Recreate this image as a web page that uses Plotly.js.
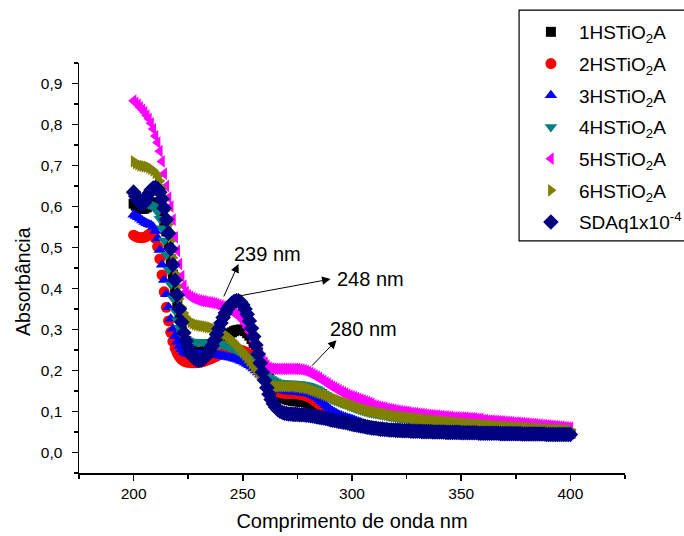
<!DOCTYPE html>
<html>
<head>
<meta charset="utf-8">
<script src="https://cdn.plot.ly/plotly-3.0.1.min.js"></script>
<style>html,body{margin:0;padding:0;background:#fff;}#chart{width:684px;height:536px;}</style>
</head>
<body>
<div id="chart"></div>
<script>
// Wavelength grid: 200..400 nm, 1 nm step
var wavelength = [];
for (var w = 200; w <= 400; w++) wavelength.push(w);

var seriesNames = ["1HSTiO<sub>2</sub>A","2HSTiO<sub>2</sub>A","3HSTiO<sub>2</sub>A","4HSTiO<sub>2</sub>A","5HSTiO<sub>2</sub>A","6HSTiO<sub>2</sub>A","SDAq1x10<sup>-4</sup>"];

var abs1HS = [
0.607,0.602,0.598,0.595,0.594,0.595,0.598,0.602,0.606,0.609,
0.610,0.607,0.599,0.585,0.565,0.539,0.507,0.471,0.434,0.398,
0.364,0.333,0.307,0.287,0.272,0.261,0.253,0.248,0.245,0.244,
0.244,0.245,0.247,0.250,0.253,0.257,0.261,0.265,0.269,0.273,
0.277,0.281,0.284,0.287,0.290,0.293,0.296,0.298,0.299,0.300,
0.299,0.296,0.291,0.285,0.277,0.267,0.256,0.244,0.231,0.218,
0.205,0.192,0.180,0.169,0.159,0.151,0.144,0.139,0.135,0.132,
0.130,0.128,0.127,0.126,0.125,0.125,0.124,0.124,0.123,0.122,
0.121,0.119,0.117,0.114,0.111,0.108,0.104,0.100,0.097,0.094,
0.091,0.088,0.086,0.084,0.082,0.080,0.078,0.077,0.076,0.075,
0.073,0.071,0.070,0.069,0.068,0.067,0.066,0.065,0.064,0.063,
0.061,0.061,0.060,0.059,0.059,0.058,0.058,0.057,0.057,0.057,
0.056,0.056,0.056,0.055,0.055,0.055,0.055,0.054,0.054,0.054,
0.054,0.054,0.053,0.053,0.053,0.053,0.053,0.052,0.052,0.052,
0.052,0.052,0.052,0.051,0.051,0.051,0.051,0.051,0.051,0.051,
0.050,0.050,0.050,0.050,0.050,0.050,0.050,0.050,0.049,0.049,
0.049,0.049,0.049,0.049,0.049,0.049,0.049,0.049,0.048,0.048,
0.048,0.048,0.048,0.048,0.048,0.048,0.048,0.048,0.047,0.047,
0.047,0.047,0.047,0.047,0.047,0.047,0.047,0.047,0.047,0.046,
0.046,0.046,0.046,0.046,0.046,0.046,0.046,0.046,0.046,0.046,
0.046];

var abs2HS = [
0.530,0.527,0.525,0.524,0.524,0.525,0.528,0.532,0.535,0.533,
0.522,0.502,0.472,0.433,0.392,0.354,0.321,0.293,0.271,0.254,
0.242,0.233,0.227,0.223,0.221,0.220,0.219,0.219,0.219,0.219,
0.220,0.221,0.222,0.224,0.226,0.228,0.230,0.233,0.235,0.238,
0.240,0.242,0.244,0.246,0.247,0.248,0.249,0.250,0.250,0.249,
0.248,0.246,0.243,0.239,0.234,0.228,0.222,0.215,0.207,0.199,
0.191,0.182,0.173,0.165,0.158,0.152,0.148,0.146,0.145,0.144,
0.144,0.144,0.144,0.144,0.144,0.143,0.142,0.141,0.140,0.138,
0.136,0.133,0.130,0.126,0.122,0.118,0.114,0.110,0.105,0.101,
0.097,0.093,0.089,0.086,0.083,0.080,0.078,0.076,0.074,0.073,
0.072,0.071,0.070,0.069,0.068,0.067,0.066,0.065,0.064,0.063,
0.061,0.061,0.060,0.059,0.059,0.058,0.058,0.057,0.057,0.057,
0.056,0.056,0.056,0.055,0.055,0.055,0.055,0.054,0.054,0.054,
0.054,0.054,0.053,0.053,0.053,0.053,0.053,0.052,0.052,0.052,
0.052,0.052,0.052,0.051,0.051,0.051,0.051,0.051,0.051,0.051,
0.050,0.050,0.050,0.050,0.050,0.050,0.050,0.050,0.049,0.049,
0.049,0.049,0.049,0.049,0.049,0.049,0.049,0.049,0.048,0.048,
0.048,0.048,0.048,0.048,0.048,0.048,0.048,0.048,0.047,0.047,
0.047,0.047,0.047,0.047,0.047,0.047,0.047,0.047,0.047,0.046,
0.046,0.046,0.046,0.046,0.046,0.046,0.046,0.046,0.046,0.046,
0.046];

var abs3HS = [
0.580,0.577,0.574,0.570,0.566,0.562,0.559,0.557,0.555,0.550,
0.540,0.522,0.494,0.458,0.421,0.386,0.354,0.326,0.302,0.284,
0.270,0.260,0.252,0.246,0.242,0.240,0.239,0.239,0.239,0.239,
0.239,0.239,0.239,0.239,0.239,0.239,0.238,0.238,0.237,0.237,
0.236,0.235,0.234,0.233,0.232,0.231,0.229,0.228,0.226,0.224,
0.222,0.219,0.216,0.213,0.209,0.205,0.200,0.195,0.190,0.185,
0.180,0.175,0.170,0.166,0.162,0.158,0.155,0.153,0.152,0.151,
0.150,0.149,0.149,0.148,0.148,0.147,0.147,0.146,0.146,0.145,
0.144,0.142,0.140,0.137,0.134,0.130,0.125,0.120,0.115,0.110,
0.105,0.101,0.098,0.095,0.092,0.090,0.088,0.086,0.084,0.083,
0.081,0.079,0.077,0.075,0.073,0.071,0.069,0.067,0.066,0.064,
0.062,0.062,0.061,0.060,0.060,0.059,0.059,0.058,0.058,0.058,
0.057,0.057,0.057,0.056,0.056,0.056,0.056,0.055,0.055,0.055,
0.055,0.055,0.054,0.054,0.054,0.054,0.054,0.053,0.053,0.053,
0.053,0.053,0.053,0.052,0.052,0.052,0.052,0.052,0.052,0.052,
0.051,0.051,0.051,0.051,0.051,0.051,0.051,0.051,0.050,0.050,
0.050,0.050,0.050,0.050,0.050,0.050,0.050,0.050,0.049,0.049,
0.049,0.049,0.049,0.049,0.049,0.049,0.049,0.049,0.048,0.048,
0.048,0.048,0.048,0.048,0.048,0.048,0.048,0.048,0.048,0.047,
0.047,0.047,0.047,0.047,0.047,0.047,0.047,0.047,0.047,0.047,
0.047];

var abs4HS = [
0.628,0.624,0.620,0.616,0.612,0.609,0.607,0.605,0.603,0.600,
0.595,0.586,0.570,0.547,0.517,0.482,0.446,0.410,0.376,0.346,
0.322,0.304,0.291,0.282,0.276,0.273,0.271,0.270,0.270,0.270,
0.270,0.270,0.270,0.269,0.269,0.268,0.268,0.267,0.266,0.265,
0.264,0.263,0.261,0.259,0.257,0.255,0.253,0.250,0.247,0.244,
0.240,0.236,0.232,0.227,0.222,0.217,0.212,0.207,0.202,0.197,
0.192,0.187,0.183,0.179,0.176,0.173,0.171,0.170,0.169,0.168,
0.168,0.168,0.168,0.168,0.167,0.167,0.167,0.166,0.165,0.164,
0.163,0.161,0.159,0.157,0.155,0.152,0.148,0.144,0.140,0.136,
0.132,0.129,0.127,0.125,0.123,0.121,0.119,0.117,0.115,0.113,
0.111,0.109,0.107,0.105,0.103,0.102,0.100,0.099,0.097,0.096,
0.095,0.094,0.093,0.092,0.091,0.090,0.089,0.088,0.087,0.086,
0.085,0.084,0.084,0.083,0.082,0.081,0.081,0.080,0.079,0.079,
0.078,0.077,0.077,0.076,0.075,0.075,0.074,0.074,0.073,0.073,
0.072,0.072,0.071,0.071,0.070,0.070,0.069,0.069,0.068,0.068,
0.067,0.067,0.066,0.066,0.065,0.065,0.064,0.064,0.064,0.063,
0.063,0.062,0.062,0.062,0.061,0.061,0.060,0.060,0.060,0.059,
0.059,0.059,0.058,0.058,0.058,0.057,0.057,0.057,0.056,0.056,
0.056,0.055,0.055,0.055,0.054,0.054,0.054,0.053,0.053,0.053,
0.052,0.052,0.052,0.052,0.051,0.051,0.051,0.051,0.050,0.050,
0.050];

var abs5HS = [
0.858,0.853,0.848,0.842,0.836,0.830,0.822,0.814,0.803,0.789,
0.772,0.756,0.735,0.710,0.680,0.650,0.622,0.600,0.568,0.525,
0.492,0.460,0.430,0.407,0.392,0.384,0.380,0.377,0.375,0.373,
0.371,0.370,0.369,0.368,0.367,0.366,0.365,0.364,0.362,0.360,
0.358,0.356,0.354,0.351,0.348,0.345,0.341,0.337,0.333,0.328,
0.322,0.314,0.305,0.295,0.284,0.272,0.260,0.249,0.238,0.228,
0.219,0.212,0.207,0.205,0.204,0.204,0.204,0.204,0.204,0.204,
0.204,0.204,0.204,0.204,0.204,0.204,0.203,0.202,0.201,0.199,
0.197,0.194,0.191,0.188,0.185,0.182,0.178,0.175,0.171,0.168,
0.164,0.161,0.158,0.155,0.152,0.149,0.146,0.144,0.141,0.139,
0.137,0.135,0.133,0.131,0.129,0.127,0.125,0.123,0.121,0.119,
0.115,0.114,0.112,0.111,0.110,0.109,0.107,0.106,0.105,0.104,
0.103,0.102,0.101,0.100,0.100,0.099,0.098,0.097,0.096,0.096,
0.095,0.094,0.094,0.093,0.092,0.092,0.091,0.091,0.090,0.090,
0.089,0.089,0.088,0.088,0.087,0.087,0.086,0.086,0.086,0.085,
0.085,0.085,0.085,0.084,0.084,0.083,0.083,0.082,0.082,0.082,
0.079,0.079,0.078,0.078,0.078,0.077,0.077,0.076,0.076,0.076,
0.075,0.075,0.074,0.074,0.073,0.073,0.073,0.072,0.072,0.071,
0.071,0.070,0.070,0.069,0.069,0.068,0.068,0.067,0.067,0.066,
0.066,0.065,0.065,0.064,0.064,0.063,0.063,0.062,0.062,0.061,
0.061];

var abs6HS = [
0.710,0.706,0.703,0.700,0.699,0.698,0.697,0.695,0.692,0.688,
0.682,0.673,0.662,0.645,0.622,0.592,0.556,0.516,0.475,0.437,
0.403,0.375,0.354,0.340,0.330,0.323,0.318,0.315,0.313,0.311,
0.310,0.309,0.308,0.307,0.306,0.305,0.303,0.301,0.299,0.297,
0.294,0.291,0.287,0.283,0.279,0.274,0.269,0.263,0.257,0.251,
0.245,0.238,0.231,0.224,0.217,0.210,0.203,0.196,0.189,0.183,
0.177,0.172,0.168,0.165,0.163,0.162,0.161,0.161,0.161,0.161,
0.161,0.161,0.161,0.161,0.161,0.160,0.160,0.159,0.158,0.157,
0.156,0.154,0.152,0.150,0.148,0.146,0.144,0.142,0.140,0.138,
0.136,0.133,0.131,0.129,0.127,0.125,0.123,0.121,0.119,0.117,
0.115,0.113,0.111,0.109,0.107,0.106,0.104,0.103,0.101,0.100,
0.099,0.098,0.097,0.096,0.095,0.094,0.093,0.092,0.091,0.090,
0.089,0.088,0.088,0.087,0.086,0.085,0.085,0.084,0.083,0.083,
0.082,0.081,0.081,0.080,0.079,0.079,0.078,0.078,0.077,0.077,
0.076,0.076,0.075,0.075,0.074,0.074,0.073,0.073,0.072,0.072,
0.071,0.071,0.070,0.070,0.069,0.069,0.068,0.068,0.068,0.067,
0.067,0.066,0.066,0.066,0.065,0.065,0.064,0.064,0.064,0.063,
0.063,0.063,0.062,0.062,0.062,0.061,0.061,0.061,0.060,0.060,
0.060,0.059,0.059,0.059,0.058,0.058,0.058,0.057,0.057,0.057,
0.056,0.056,0.056,0.056,0.055,0.055,0.055,0.055,0.054,0.054,
0.054];

var absSDAq = [
0.635,0.625,0.615,0.608,0.605,0.610,0.620,0.632,0.640,0.645,
0.646,0.643,0.635,0.618,0.596,0.568,0.535,0.497,0.458,0.420,
0.384,0.350,0.318,0.292,0.272,0.256,0.244,0.235,0.229,0.226,
0.225,0.226,0.229,0.234,0.241,0.250,0.261,0.274,0.288,0.302,
0.316,0.329,0.340,0.350,0.358,0.364,0.368,0.370,0.370,0.367,
0.360,0.350,0.337,0.321,0.303,0.283,0.262,0.240,0.218,0.196,
0.176,0.158,0.142,0.129,0.119,0.111,0.105,0.101,0.098,0.096,
0.095,0.094,0.094,0.093,0.093,0.093,0.092,0.092,0.092,0.091,
0.091,0.090,0.089,0.088,0.087,0.086,0.085,0.084,0.083,0.082,
0.080,0.079,0.078,0.077,0.076,0.075,0.074,0.073,0.072,0.070,
0.069,0.068,0.067,0.066,0.065,0.064,0.063,0.062,0.061,0.060,
0.059,0.059,0.058,0.057,0.057,0.056,0.056,0.055,0.055,0.055,
0.054,0.054,0.054,0.053,0.053,0.053,0.053,0.052,0.052,0.052,
0.052,0.052,0.051,0.051,0.051,0.051,0.051,0.050,0.050,0.050,
0.050,0.050,0.050,0.049,0.049,0.049,0.049,0.049,0.049,0.049,
0.048,0.048,0.048,0.048,0.048,0.048,0.048,0.048,0.047,0.047,
0.047,0.047,0.047,0.047,0.047,0.047,0.047,0.047,0.046,0.046,
0.046,0.046,0.046,0.046,0.046,0.046,0.046,0.046,0.045,0.045,
0.045,0.045,0.045,0.045,0.045,0.045,0.045,0.045,0.045,0.044,
0.044,0.044,0.044,0.044,0.044,0.044,0.044,0.044,0.044,0.044,
0.044];

var seriesValues = [abs1HS, abs2HS, abs3HS, abs4HS, abs5HS, abs6HS, absSDAq];
var seriesColors = ["#000000","#ff0000","#0000ff","#008080","#ff00ff","#808000","#000080"];
var seriesSymbols = ["square","circle","triangle-up","triangle-down","triangle-left","triangle-right","diamond"];
var seriesSizes = [10,11,11,11,11,11,12];

var FONT = "Liberation Sans, Arial, Helvetica, sans-serif";

var traces = seriesValues.map(function (vals, i) {
  return {
    type: "scatter",
    mode: "markers",
    x: wavelength,
    y: vals,
    name: seriesNames[i],
    legendgroup: "g" + i,
    marker: {color: seriesColors[i], symbol: seriesSymbols[i], size: seriesSizes[i], line: {width: 0}},
    hoverinfo: "skip"
  };
});

var peakLabels = ["239 nm", "248 nm", "280 nm"];
var labelPos = [[261.3, 0.484], [308.5, 0.423], [305.3, 0.301]];
var arrowHead = [[248.0, 0.460], [290.2, 0.423], [292.9, 0.274]];
var arrowTail = [[241.0, 0.377], [247.6, 0.381], [281.0, 0.208]];

var annotations = [];
peakLabels.forEach(function (t, i) {
  annotations.push({x: labelPos[i][0], y: labelPos[i][1], xref: "x", yref: "y", text: t,
    showarrow: false, font: {family: FONT, size: 20, color: "#000"}});
  annotations.push({x: arrowHead[i][0], y: arrowHead[i][1], xref: "x", yref: "y",
    ax: arrowTail[i][0], ay: arrowTail[i][1], axref: "x", ayref: "y", text: "",
    showarrow: true, arrowhead: 2, arrowsize: 1.7, arrowwidth: 1, arrowcolor: "#000"});
});
// y-axis title placed as in the reference (slightly below the axis centre)
annotations.push({x: -0.103, y: 0.468, xref: "paper", yref: "paper", text: "Absorbância",
  textangle: -90, showarrow: false, xanchor: "center", yanchor: "middle",
  font: {family: FONT, size: 19.5, color: "#000"}});

var layout = {
  width: 684, height: 536,
  margin: {l: 79, r: 59, t: 63, b: 63, autoexpand: false},
  paper_bgcolor: "#fff", plot_bgcolor: "#fff",
  separators: ", ",
  font: {family: FONT, size: 15.5, color: "#000"},
  showlegend: true,
  legend: {x: 0.813, y: 1.122, xanchor: "left", yanchor: "top", bgcolor: "rgba(0,0,0,0)",
    borderwidth: 0, font: {family: FONT, size: 19, color: "#000"},
    itemwidth: 46, tracegroupgap: 4, itemclick: false},
  xaxis: {
    range: [175, 425], dtick: 50, tick0: 200, showgrid: false, zeroline: false,
    showline: true, linecolor: "#000", linewidth: 1.5, mirror: false,
    ticks: "outside", ticklen: 6, tickwidth: 1.5, tickcolor: "#000",
    tickfont: {family: FONT, size: 15.5, color: "#000"},
    minor: {dtick: 25, tick0: 175, ticks: "outside", ticklen: 4, tickwidth: 1.5, tickcolor: "#000", showgrid: false},
    title: {text: "Comprimento de onda nm", font: {family: FONT, size: 20, color: "#000"}, standoff: 13}
  },
  yaxis: {
    range: [-0.05, 0.95], dtick: 0.1, tick0: 0, tickformat: ".1f", showgrid: false, zeroline: false,
    showline: true, linecolor: "#000", linewidth: 1.5, mirror: false,
    ticks: "outside", ticklen: 6, tickwidth: 1.5, tickcolor: "#000", ticklabelstandoff: 6,
    tickfont: {family: FONT, size: 15.5, color: "#000"},
    minor: {dtick: 0.05, tick0: -0.05, ticks: "outside", ticklen: 4, tickwidth: 1.5, tickcolor: "#000", showgrid: false}
  },
  shapes: [{type: "rect", xref: "paper", yref: "paper", x0: 0.806, x1: 1.2, y0: 0.566, y1: 1.129,
    line: {color: "#000", width: 1.2}, fillcolor: "rgba(0,0,0,0)", layer: "above"}],
  annotations: annotations
};

Plotly.newPlot("chart", traces, layout, {displayModeBar: false, staticPlot: true});
</script>
</body>
</html>
